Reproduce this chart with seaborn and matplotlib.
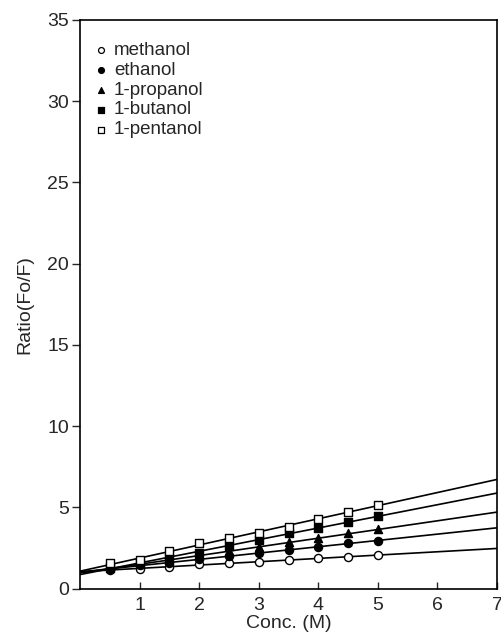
import numpy as np
import pandas as pd
import matplotlib
matplotlib.use('Agg')
import matplotlib.pyplot as plt
import seaborn as sns

# concentrations (M) and Fo/F ratios
conc = [0.5, 1.0, 1.5, 2.0, 2.5, 3.0, 3.5, 4.0, 4.5, 5.0]
methanol = [1.15, 1.2, 1.35, 1.5, 1.6, 1.67, 1.76, 1.87, 1.93, 2.07]
ethanol = [1.2, 1.45, 1.6, 1.8, 2.0, 2.2, 2.4, 2.58, 2.79, 2.95]
propanol = [1.3, 1.5, 1.75, 2.0, 2.3, 2.55, 2.85, 3.09, 3.41, 3.66]
butanol = [1.35, 1.6, 1.9, 2.2, 2.6, 3.0, 3.4, 3.76, 4.13, 4.47]
pentanol = [1.6, 1.75, 2.3, 2.8, 3.1, 3.4, 3.8, 4.31, 4.74, 5.18]

names = ['methanol', 'ethanol', '1-propanol', '1-butanol', '1-pentanol']
series = [methanol, ethanol, propanol, butanol, pentanol]
markers = ['o', 'o', '^', 's', 's']
faces = ['white', 'black', 'black', 'black', 'white']

xticks = [1, 2, 3, 4, 5, 6, 7]
yticks = [0, 5, 10, 15, 20, 25, 30, 35]

sns.set_style('ticks')
plt.rcParams['font.family'] = ['Liberation Sans', 'DejaVu Sans']

fig = plt.figure(figsize=(5.01, 6.42), dpi=100)
ax = fig.add_axes([0.16, 0.083, 0.832, 0.886])
ax.set_xlim(0, 7)
ax.set_ylim(0, 35)

handles = []
for name, vals, m, fc in zip(names, series, markers, faces):
    df = pd.DataFrame({'Conc': conc, 'Ratio': vals})
    sns.regplot(data=df, x='Conc', y='Ratio', ax=ax, scatter=False, ci=None,
                truncate=False, color='black', line_kws={'linewidth': 1.2})
    sns.scatterplot(data=df, x='Conc', y='Ratio', ax=ax, marker=m, s=34,
                    facecolor=fc, edgecolor='black', linewidth=1.0, zorder=3)
    h = ax.scatter([], [], marker=m, s=18, facecolor=fc, edgecolor='black',
                   linewidth=0.9, label=name)
    handles.append(h)

ax.set_xlim(0, 7)
ax.set_ylim(0, 35)
ax.set_xticks(xticks)
ax.set_xticklabels([str(t) for t in xticks])
ax.set_yticks(yticks)
ax.tick_params(axis='x', direction='in', length=5, width=1, labelsize=14, pad=6)
ax.tick_params(axis='y', direction='out', length=6, width=1, labelsize=14, pad=2)
for sp in ax.spines.values():
    sp.set_visible(True)
    sp.set_linewidth(1.2)
    sp.set_color('black')

ax.set_xlabel('Conc. (M)', fontsize=14, labelpad=1)
ax.set_ylabel('Ratio(Fo/F)', fontsize=14, labelpad=10)

ax.legend(handles=handles, loc='upper left', bbox_to_anchor=(0.0, 0.985),
          frameon=False, fontsize=13.5, handlelength=0.8, handletextpad=0.3,
          labelspacing=0.15, borderaxespad=0.3)

fig.savefig('out.png', dpi=100)
